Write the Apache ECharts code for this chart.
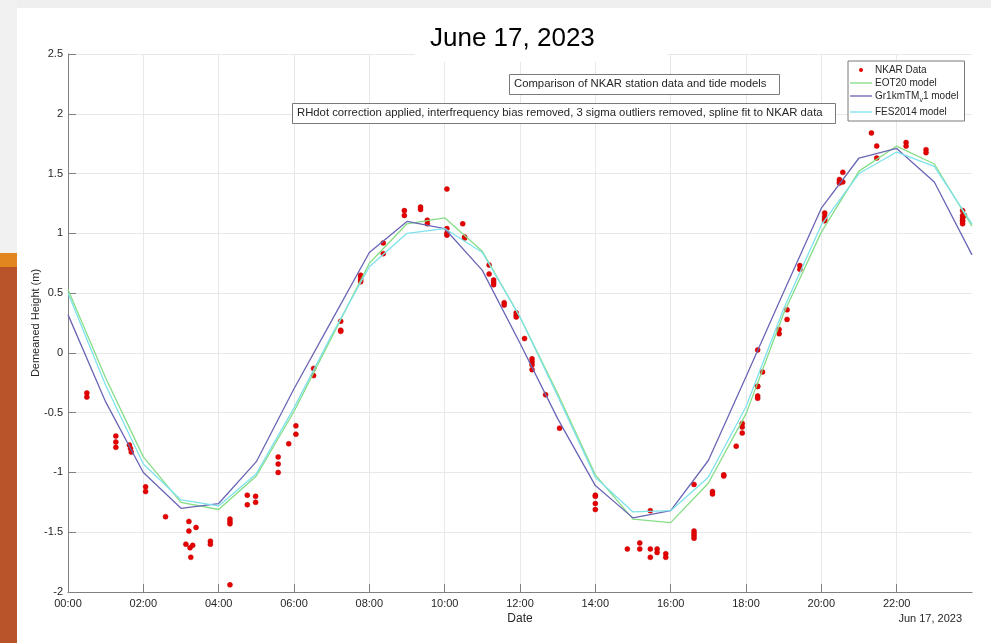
<!DOCTYPE html>
<html>
<head>
<meta charset="utf-8">
<script src="https://cdn.jsdelivr.net/npm/echarts@6/dist/echarts.min.js"></script>
<style>
html,body{margin:0;padding:0;background:#fff;}
#chart{width:991px;height:643px;}
</style>
</head>
<body>
<div id="chart"></div>
<script>
// ---- data ----
const modelHours = [0,1,2,3,4,5,6,7,8,9,10,11,12,13,14,15,16,17,18,19,20,21,22,23,24];
const eot20 = [0.53,-0.21,-0.87,-1.25,-1.31,-1.03,-0.49,0.13,0.75,1.08,1.13,0.85,0.30,-0.34,-1.02,-1.39,-1.42,-1.09,-0.51,0.33,1.01,1.52,1.73,1.58,1.06];
const gr1km = [0.32,-0.41,-1.00,-1.30,-1.26,-0.91,-0.30,0.27,0.84,1.10,1.04,0.69,0.08,-0.55,-1.11,-1.38,-1.32,-0.90,-0.20,0.51,1.21,1.63,1.71,1.43,0.82];
const fes2014 = [0.50,-0.27,-0.93,-1.23,-1.28,-1.01,-0.46,0.15,0.72,1.00,1.04,0.84,0.30,-0.36,-1.04,-1.33,-1.32,-1.04,-0.45,0.37,1.07,1.50,1.68,1.56,1.08];

const nkarHours = [
 0.50,0.50, 1.27,1.27,1.27, 1.63,1.66,1.68, 2.06,2.06, 2.59,
 3.21,3.21,3.13,3.24,3.31,3.26,3.40, 3.78,3.78, 4.30,4.30,4.30,4.30,
 4.76,4.76, 4.98,4.98, 5.58,5.58,5.58, 5.86, 6.05,6.05, 6.52,6.52,
 7.24,7.24,7.24, 7.77,7.77,7.77,7.77, 8.37,8.37, 8.93,8.93, 9.36,9.36,
 9.54,9.54, 10.06,10.06,10.06,10.06, 10.48, 10.53,10.53, 11.18,11.18,
 11.30,11.30,11.30, 11.58,11.58, 11.90,11.90,11.90, 12.12,
 12.32,12.32,12.32,12.32, 12.68, 13.05, 14.00,14.00,14.00,14.00,
 14.85, 15.18,15.18, 15.46,15.46,15.46, 15.64,15.64, 15.87,15.87,
 16.62,16.62,16.62,16.62,16.62, 17.11,17.11, 17.41,17.41, 17.74,
 17.90,17.90,17.90, 18.31,18.31,18.31,18.31,18.31, 18.44, 18.88,18.88,
 19.09,19.09, 19.43,19.43, 20.09,20.09,20.09,20.09, 20.48,20.48,20.48,
 20.57,20.57, 21.33, 21.47,21.47, 22.25,22.25, 22.78,22.78,
 23.75,23.75,23.75,23.75,23.75,23.75,23.80
];
const nkarHeights = [
 -0.335,-0.37, -0.695,-0.745,-0.79, -0.77,-0.80,-0.83, -1.12,-1.16, -1.37,
 -1.41,-1.49,-1.60,-1.63,-1.61,-1.71,-1.46, -1.575,-1.60, -1.39,-1.41,-1.43,-1.94,
 -1.19,-1.27, -1.20,-1.25, -0.87,-0.93,-1.00, -0.76, -0.61,-0.68, -0.13,-0.19,
 0.265,0.19,0.18, 0.65,0.63,0.61,0.595, 0.92,0.83, 1.19,1.15, 1.22,1.20,
 1.11,1.08, 1.37,1.04,1.00,0.985, 1.08, 0.97,0.96, 0.735,0.66,
 0.61,0.59,0.57, 0.42,0.40, 0.335,0.315,0.30, 0.12,
 -0.05,-0.075,-0.10,-0.14, -0.35, -0.63, -1.19,-1.20,-1.26,-1.31,
 -1.64, -1.59,-1.64, -1.32,-1.64,-1.71, -1.64,-1.67, -1.68,-1.71,
 -1.10,-1.49,-1.51,-1.53,-1.55, -1.16,-1.18, -1.02,-1.03, -0.78,
 -0.59,-0.62,-0.67, 0.025,-0.28,-0.28,-0.36,-0.38, -0.16, 0.196,0.16,
 0.36,0.28, 0.73,0.70, 1.17,1.14,1.12,1.105, 1.45,1.43,1.42,
 1.43,1.51, 1.84, 1.73,1.63, 1.76,1.73, 1.70,1.675,
 1.19,1.15,1.13,1.11,1.10,1.08,1.15
];

const yTicks = ['-2','-1.5','-1','-0.5','0','0.5','1','1.5','2','2.5'];
const xTickHours = [0,2,4,6,8,10,12,14,16,18,20,22];

const chartTitle = 'June 17, 2023';
const note1 = 'Comparison of NKAR station data and tide models';
const note2 = 'RHdot correction applied, interfrequency bias removed, 3 sigma outliers removed, spline fit to NKAR data';

// ---- build ----
const pair = (xs, ys) => xs.map((x, i) => [x, ys[i]]);
const FONT = '"Liberation Sans", Arial, Helvetica, sans-serif';
const axisGrey = '#808080';
const textCol = '#262626';
const lineIcon = 'path://M0,0h100v6H0z';
const dotIcon = 'path://M50,0A50,50,0,1,1,49.99,0z';

const chart = echarts.init(document.getElementById('chart'), null, {renderer: 'canvas'});

const option = {
  backgroundColor: '#ffffff',
  animation: false,
  textStyle: {fontFamily: FONT},
  grid: {left: 68, right: 19, top: 54, bottom: 51, containLabel: false},
  xAxis: {
    type: 'value', min: 0, max: 24, interval: 2,
    name: 'Date', nameLocation: 'middle', nameGap: 21, nameMoveOverlap: false,
    nameTextStyle: {fontFamily: FONT, fontSize: 12, color: textCol},
    axisLine: {show: true, onZero: false, lineStyle: {color: axisGrey, width: 1}},
    axisTick: {show: true, inside: true, length: 8, lineStyle: {color: axisGrey}},
    axisLabel: {
      fontFamily: FONT, fontSize: 11, color: textCol, margin: 6, showMaxLabel: false,
      formatter: v => xTickHours.indexOf(v) >= 0 ? (v < 10 ? '0' : '') + v + ':00' : ''
    },
    splitLine: {show: true, showMinLine: false, showMaxLine: false, lineStyle: {color: '#e8e8e8', width: 1}}
  },
  yAxis: {
    type: 'value', min: -2, max: 2.5, interval: 0.5,
    name: 'Demeaned Height (m)', nameLocation: 'middle', nameGap: 27, nameRotate: 90, nameMoveOverlap: false,
    nameTextStyle: {fontFamily: FONT, fontSize: 11, color: textCol},
    axisLine: {show: true, onZero: false, lineStyle: {color: axisGrey, width: 1}},
    axisTick: {show: true, inside: true, length: 8, lineStyle: {color: axisGrey}},
    axisLabel: {
      fontFamily: FONT, fontSize: 11, color: textCol, margin: 5,
      formatter: v => { const s = String(Math.round(v * 10) / 10); return yTicks.indexOf(s) >= 0 ? s : ''; }
    },
    splitLine: {show: true, showMinLine: false, lineStyle: {color: '#e8e8e8', width: 1}}
  },
  legend: {
    orient: 'vertical', left: 848, top: 61,
    padding: [4, 6, 4, 2], itemGap: 3, itemWidth: 22, itemHeight: 4,
    borderColor: '#7a7a7a', borderWidth: 1, backgroundColor: '#ffffff',
    textStyle: {
      fontFamily: FONT, fontSize: 10, color: textCol, padding: [0,0,0,-2],
      rich: {
        n: {fontFamily: FONT, fontSize: 10, color: textCol},
        s: {fontFamily: FONT, fontSize: 7, color: textCol, padding: [9, 0, 0, 0]}
      }
    },
    formatter: name => name === 'Gr1kmTM_v1 model' ? '{n|Gr1kmTM}{s|v}{n|1 model}' : name,
    data: [
      {name: 'NKAR Data', icon: dotIcon, itemStyle: {borderWidth: 0}},
      {name: 'EOT20 model', icon: lineIcon},
      {name: 'Gr1kmTM_v1 model', icon: lineIcon},
      {name: 'FES2014 model', icon: lineIcon}
    ],
    z: 20
  },
  graphic: [
    // slide decoration
    {type: 'rect', shape: {x: 0, y: 0, width: 991, height: 8}, style: {fill: '#efefef'}, z: -10, silent: true},
    {type: 'rect', shape: {x: 0, y: 0, width: 17, height: 253}, style: {fill: '#f1f1f1'}, z: -10, silent: true},
    {type: 'rect', shape: {x: 0, y: 253, width: 17, height: 14}, style: {fill: '#e2861e'}, z: -10, silent: true},
    {type: 'rect', shape: {x: 0, y: 267, width: 17, height: 376}, style: {fill: '#b9532a'}, z: -10, silent: true},
    // title box
    {type: 'rect', shape: {x: 415, y: 18, width: 252, height: 44}, style: {fill: '#ffffff'}, z: 50, silent: true},
    {type: 'text', left: 430, top: 26, z: 51, silent: true,
      style: {text: chartTitle, fontFamily: FONT, fontSize: 26, fill: '#000000'}},
    // annotation 1
    {type: 'rect', shape: {x: 509.5, y: 74.5, width: 270, height: 20}, style: {fill: '#ffffff', stroke: '#7a7a7a', lineWidth: 1}, z: 50, silent: true},
    {type: 'text', left: 514, top: 78, z: 51, silent: true,
      style: {text: note1, fontFamily: FONT, fontSize: 11.3, fill: textCol}},
    // annotation 2
    {type: 'rect', shape: {x: 292.5, y: 103.5, width: 543, height: 20}, style: {fill: '#ffffff', stroke: '#7a7a7a', lineWidth: 1}, z: 50, silent: true},
    {type: 'text', left: 297, top: 107, z: 51, silent: true,
      style: {text: note2, fontFamily: FONT, fontSize: 11.3, fill: textCol}},
    // date stamp
    {type: 'text', right: 29, top: 613, z: 51, silent: true,
      style: {text: 'Jun 17, 2023', fontFamily: FONT, fontSize: 11, fill: textCol}}
  ],
  series: [
    {
      name: 'NKAR Data', type: 'scatter', data: pair(nkarHours, nkarHeights),
      symbol: 'circle', symbolSize: 5,
      itemStyle: {color: '#e60000', borderColor: '#c00000', borderWidth: 0.5, opacity: 1},
      z: 2
    },
    {
      name: 'EOT20 model', type: 'line', data: pair(modelHours, eot20),
      symbol: 'none', lineStyle: {color: '#86dd86', width: 1.3}, itemStyle: {color: '#86dd86'}, z: 3
    },
    {
      name: 'Gr1kmTM_v1 model', type: 'line', data: pair(modelHours, gr1km),
      symbol: 'none', lineStyle: {color: '#6a66b6', width: 1.3}, itemStyle: {color: '#6a66b6'}, z: 3
    },
    {
      name: 'FES2014 model', type: 'line', data: pair(modelHours, fes2014),
      symbol: 'none', lineStyle: {color: '#7ee2ea', width: 1.3}, itemStyle: {color: '#7ee2ea'}, z: 3
    }
  ]
};
chart.setOption(option);
</script>
</body>
</html>
